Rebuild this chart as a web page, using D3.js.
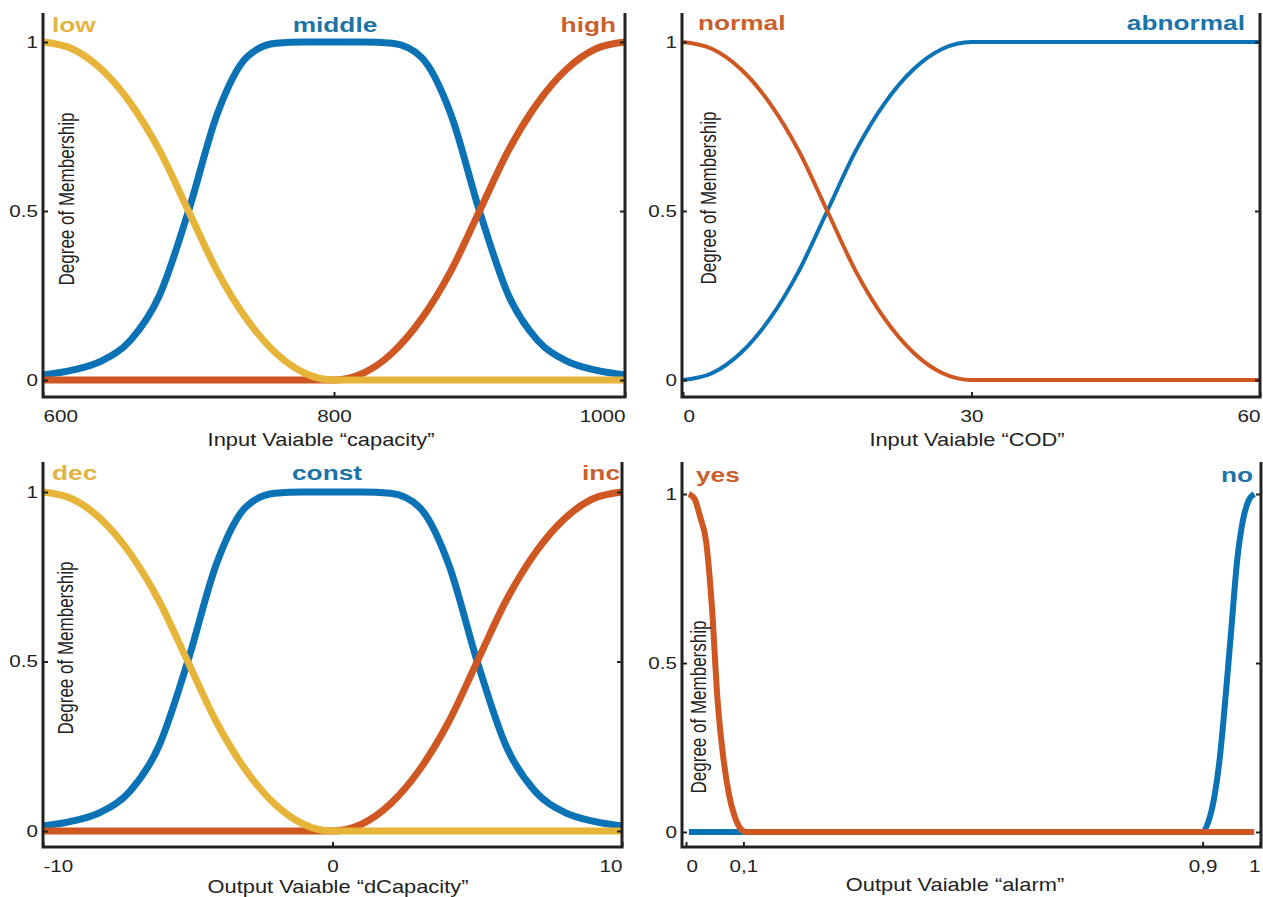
<html>
  <head>
    <title>Membership functions</title>
    <style>
      body {
        margin: 0;
        background: #fff;
      }
      svg text {
        font-family: "Liberation Sans", Arial, sans-serif;
      }
    </style>
  </head>
  <body>
    <div id="vis"></div>
    <script src="https://d3js.org/d3.v7.min.js"></script>
    <script>
      // values
      const capX = [600, 620, 640, 660, 680, 700, 720, 740, 760, 780, 800, 820, 840, 860, 880, 900, 920, 940, 960, 980, 1000]
      const capLow = [1, 0.98, 0.92, 0.82, 0.68, 0.5, 0.32, 0.18, 0.08, 0.02, 0, 0, 0, 0, 0, 0, 0, 0, 0, 0, 0]
      const capMiddle = [0.015, 0.029, 0.056, 0.117, 0.25, 0.5, 0.79, 0.955, 0.996, 1, 1, 1, 0.996, 0.955, 0.79, 0.5, 0.25, 0.117, 0.056, 0.029, 0.015]
      const capHigh = [0, 0, 0, 0, 0, 0, 0, 0, 0, 0, 0, 0.02, 0.08, 0.18, 0.32, 0.5, 0.68, 0.82, 0.92, 0.98, 1]
      const capNames = ['low', 'middle', 'high']
      const capTicks = [600, 800, 1000]
      const capTickLabels = ['600', '800', '1000']

      const codX = [0, 3, 6, 9, 12, 15, 18, 21, 24, 27, 30, 40, 50, 60]
      const codNormal = [1, 0.98, 0.92, 0.82, 0.68, 0.5, 0.32, 0.18, 0.08, 0.02, 0, 0, 0, 0]
      const codAbnormal = [0, 0.02, 0.08, 0.18, 0.32, 0.5, 0.68, 0.82, 0.92, 0.98, 1, 1, 1, 1]
      const codNames = ['normal', 'abnormal']
      const codTicks = [0, 30, 60]
      const codTickLabels = ['0', '30', '60']

      const dcapX = [-10, -9, -8, -7, -6, -5, -4, -3, -2, -1, 0, 1, 2, 3, 4, 5, 6, 7, 8, 9, 10]
      const dcapDec = [1, 0.98, 0.92, 0.82, 0.68, 0.5, 0.32, 0.18, 0.08, 0.02, 0, 0, 0, 0, 0, 0, 0, 0, 0, 0, 0]
      const dcapConst = [0.015, 0.029, 0.056, 0.117, 0.25, 0.5, 0.79, 0.955, 0.996, 1, 1, 1, 0.996, 0.955, 0.79, 0.5, 0.25, 0.117, 0.056, 0.029, 0.015]
      const dcapInc = [0, 0, 0, 0, 0, 0, 0, 0, 0, 0, 0, 0.02, 0.08, 0.18, 0.32, 0.5, 0.68, 0.82, 0.92, 0.98, 1]
      const dcapNames = ['dec', 'const', 'inc']
      const dcapTicks = [-10, 0, 10]
      const dcapTickLabels = ['-10', '0', '10']

      const alarmX = [0.005, 0.015, 0.025, 0.035, 0.045, 0.055, 0.065, 0.075, 0.085, 0.095, 0.105, 0.9, 0.91, 0.92, 0.93, 0.94, 0.95, 0.96, 0.97, 0.98, 0.99]
      const alarmYes = [1, 0.985, 0.93, 0.86, 0.67, 0.39, 0.22, 0.11, 0.045, 0.01, 0, 0, 0, 0, 0, 0, 0, 0, 0, 0, 0]
      const alarmNo = [0, 0, 0, 0, 0, 0, 0, 0, 0, 0, 0, 0, 0.03, 0.1, 0.22, 0.4, 0.6, 0.8, 0.92, 0.98, 1]
      const alarmNames = ['yes', 'no']
      const alarmTicks = [0, 0.1, 0.9, 1]
      const alarmTickLabels = ['0', '0,1', '0,9', '1']

      const yTicks = [0, 0.5, 1]
      const yTickLabels = ['0', '0.5', '1']

      const blue = '#0b72b5', orange = '#cf5722', yellow = '#e7b43a'
      const blueText = '#1c73a8', orangeText = '#c9602e', yellowText = '#e3b443'
      const stretch = 'scale(1.25,1)'

      const svg = d3.select('#vis').append('svg').attr('width', 1263).attr('height', 897)

      const panels = [
        {
          xs: capX, domain: [600, 1000], range: [43, 625],
          left: 43, right: 625, top: 13, bottom: 397, yZero: 380, yOne: 42, lw: 7,
          series: [[capMiddle, blue], [capHigh, orange], [capLow, yellow]],
          names: capNames, nameColors: [yellowText, blueText, orangeText],
          namePos: [[52, 'start'], [335, 'middle'], [616, 'end']], nameY: 32,
          ticks: capTicks, tickLabels: capTickLabels,
          title: 'Input Vaiable \u201ccapacity\u201d', titleX: 321, titleY: 446,
          degree: [67, 199]
        },
        {
          xs: codX, domain: [0, 60], range: [683, 1260],
          left: 682, right: 1260, top: 13, bottom: 397, yZero: 380, yOne: 42, lw: 4,
          series: [[codAbnormal, blue], [codNormal, orange]],
          names: codNames, nameColors: [orangeText, blueText],
          namePos: [[698, 'start'], [1245, 'end']], nameY: 30,
          ticks: codTicks, tickLabels: codTickLabels,
          title: 'Input Vaiable \u201cCOD\u201d', titleX: 967, titleY: 446,
          degree: [709, 198]
        },
        {
          xs: dcapX, domain: [-10, 10], range: [43, 622],
          left: 43, right: 622, top: 462, bottom: 847, yZero: 831, yOne: 492, lw: 7,
          series: [[dcapConst, blue], [dcapInc, orange], [dcapDec, yellow]],
          names: dcapNames, nameColors: [yellowText, blueText, orangeText],
          namePos: [[52, 'start'], [327, 'middle'], [620, 'end']], nameY: 480,
          ticks: dcapTicks, tickLabels: dcapTickLabels,
          title: 'Output Vaiable \u201cdCapacity\u201d', titleX: 338, titleY: 893,
          degree: [66, 648]
        },
        {
          xs: alarmX, domain: [0, 1], range: [686, 1260],
          left: 682, right: 1261, top: 462, bottom: 847, yZero: 832, yOne: 494, lw: 6,
          series: [[alarmNo, blue], [alarmYes, orange]],
          names: alarmNames, nameColors: [orangeText, blueText],
          namePos: [[696, 'start'], [1253, 'end']], nameY: 482,
          ticks: alarmTicks, tickLabels: alarmTickLabels,
          title: 'Output Vaiable \u201calarm\u201d', titleX: 955, titleY: 891,
          degree: [699, 707]
        }
      ]

      panels.forEach(p => {
        const g = svg.append('g')
        const x = d3.scaleLinear().domain(p.domain).range(p.range)
        const y = d3.scaleLinear().domain([0, 1]).range([p.yZero, p.yOne])

        // curves
        const line = d3.line()
                .x((d, i) => x(p.xs[i]))
                .y(d => y(d))
                .curve(d3.curveMonotoneX)
        p.series.forEach(s => {
          g.append('path')
                  .datum(s[0])
                  .attr('d', line)
                  .attr('fill', 'none')
                  .attr('stroke', s[1])
                  .attr('stroke-width', p.lw)
                  .attr('stroke-linejoin', 'round')
        })

        // frame: left, bottom, right
        g.append('path')
                .attr('d', `M${p.left},${p.top}V${p.bottom}H${p.right}V${p.top}`)
                .attr('fill', 'none')
                .attr('stroke', '#222')
                .attr('stroke-width', 3)

        const yAxis = g.append('g')
                .attr('transform', `translate(${p.left},0)`)
                .call(d3.axisLeft(y).tickValues(yTicks).tickFormat((d, i) => yTickLabels[i]).tickSize(-5).tickPadding(4))
        const rAxis = g.append('g')
                .attr('transform', `translate(${p.right},0)`)
                .call(d3.axisRight(y).tickValues(yTicks).tickFormat('').tickSize(-5))
        const xAxis = g.append('g')
                .attr('transform', `translate(0,${p.bottom})`)
                .call(d3.axisBottom(x).tickValues(p.ticks).tickFormat((d, i) => p.tickLabels[i]).tickSize(-5).tickPadding(13))

        ;[yAxis, rAxis, xAxis].forEach(a => {
          a.attr('font-family', null).attr('font-size', null)
          a.select('.domain').remove()
          a.selectAll('.tick line').attr('stroke', '#222').attr('stroke-width', 2)
          a.selectAll('.tick text')
                  .attr('fill', '#222')
                  .attr('font-size', 16.5)
                  .attr('transform', stretch)
        })
        xAxis.selectAll('.tick text')
                .attr('text-anchor', (d, i) => i === 0 ? 'start' : (i === p.ticks.length - 1 ? 'end' : 'middle'))

        // term names
        p.names.forEach((n, i) => {
          g.append('text')
                  .text(n)
                  .attr('transform', `translate(${p.namePos[i][0]},${p.nameY}) ${stretch}`)
                  .attr('text-anchor', p.namePos[i][1])
                  .attr('font-size', 21)
                  .attr('font-weight', 'bold')
                  .attr('fill', p.nameColors[i])
        })

        g.append('text')
                .text(p.title)
                .attr('transform', `translate(${p.titleX},${p.titleY}) ${stretch}`)
                .attr('text-anchor', 'middle')
                .attr('font-size', 17.5)
                .attr('fill', '#222')

        g.append('text')
                .text('Degree of Membership')
                .attr('transform', `translate(${p.degree[0]},${p.degree[1]}) ${stretch} rotate(-90)`)
                .attr('text-anchor', 'middle')
                .attr('dominant-baseline', 'central')
                .attr('font-size', 17)
                .attr('fill', '#222')
      })
    </script>
  </body>
</html>
